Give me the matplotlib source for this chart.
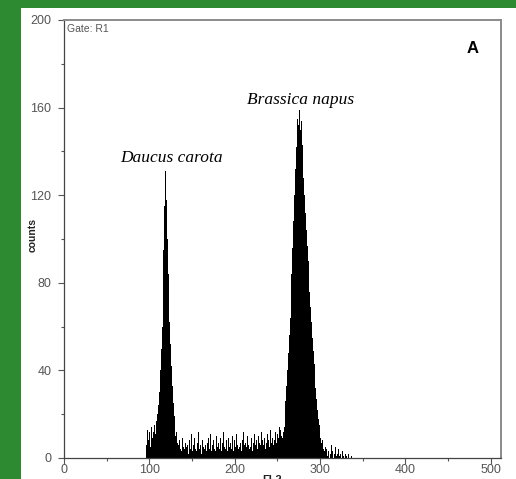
import matplotlib
matplotlib.use("Agg")
import matplotlib.pyplot as plt
from matplotlib.patches import Rectangle
import numpy as np

# ---- data: FL2 channel histogram (counts per channel) ----
start_channel = 95
counts = [
    # 95-104
    0, 11, 6, 13, 8, 12, 5, 10, 14, 9,
    # 105-114
    12, 15, 11, 17, 16, 20, 24, 30, 40, 50,
    # 115-124
    60, 76, 95, 115, 131, 118, 100, 84, 72, 62,
    # 125-134
    52, 42, 33, 25, 19, 14, 10, 12, 7, 6,
    # 135-144
    8, 4, 6, 3, 9, 5, 4, 7, 3, 5,
    # 145-154
    6, 2, 8, 4, 11, 5, 3, 6, 9, 4,
    # 155-164
    3, 7, 5, 12, 4, 6, 2, 8, 5, 10,
    # 165-174
    4, 6, 3, 7, 9, 4, 5, 11, 3, 6,
    # 175-184
    8, 4, 6, 3, 10, 5, 7, 4, 9, 6,
    # 185-194
    3, 7, 12, 5, 4, 8, 6, 3, 9, 5,
    # 195-204
    7, 4, 10, 6, 3, 8, 5, 11, 6, 4,
    # 205-214
    9, 5, 7, 3, 8, 12, 6, 4, 7, 5,
    # 215-224
    10, 6, 4, 8, 5, 9, 3, 7, 11, 6,
    # 225-234
    5, 8, 4, 10, 7, 6, 12, 5, 8, 6,
    # 235-244
    9, 4, 7, 11, 6, 8, 5, 13, 7, 9,
    # 245-254
    6, 10, 8, 12, 7, 11, 9, 14, 10, 13,
    # 255-264
    10, 9, 12, 14, 19, 26, 33, 40, 48, 56,
    # 265-274
    64, 74, 84, 96, 108, 120, 132, 142, 150, 155,
    # 275-284
    152, 159, 150, 154, 143, 136, 128, 120, 112, 104,
    # 285-294
    97, 90, 83, 76, 69, 62, 55, 49, 43, 37,
    # 295-304
    32, 27, 22, 18, 15, 12, 9, 7, 8, 4,
    # 305-314
    3, 5, 2, 4, 1, 3, 0, 2, 6, 1,
    # 315-324
    3, 0, 2, 5, 1, 2, 0, 4, 1, 2,
    # 325-334
    0, 3, 1, 4, 0, 2, 1, 0, 2, 0,
    # 335-340
    1, 0, 1, 0, 0, 0,
]
channels = np.arange(start_channel, start_channel + len(counts))

x_ticks = [0, 100, 200, 300, 400, 500]
y_ticks = [0, 40, 80, 120, 160, 200]
peak_labels = ["Daucus carota", "Brassica napus"]
peak_label_pos = [(126.5, 137), (277.5, 163.5)]

# ---- figure ----
W, H = 516, 479
fig = plt.figure(figsize=(W / 100, H / 100), dpi=100)
fig.patch.set_facecolor("#2e8a30")
fig.add_artist(Rectangle((21 / W, 0), 1 - 21 / W, (H - 8) / H,
                         transform=fig.transFigure, facecolor="white",
                         edgecolor="none", zorder=0))

ax = fig.add_axes([64 / W, 21 / H, 437 / W, 438 / H])
ax.set_facecolor("white")
ax.bar(channels, counts, width=1.0, color="black", linewidth=0, align="center")

ax.set_xlim(0, 512)
ax.set_ylim(0, 200)
ax.set_xticks(x_ticks)
ax.set_xticks([50, 150, 250, 350, 450], minor=True)
ax.set_yticks(y_ticks)
ax.set_yticks([20, 60, 100, 140, 180], minor=True)

ax.tick_params(axis="both", which="major", direction="out", length=4,
               width=0.8, color="#555555", labelcolor="#555555")
ax.tick_params(axis="x", which="major", pad=0.5)
ax.tick_params(axis="y", which="major", pad=5)
ax.tick_params(axis="both", which="minor", direction="out", length=2.5,
               width=0.8, color="#555555")
for lbl in ax.get_xticklabels() + ax.get_yticklabels():
    lbl.set_fontfamily("Liberation Sans")
    lbl.set_fontsize(9)

for side in ["left", "bottom"]:
    ax.spines[side].set_color("#444444")
    ax.spines[side].set_linewidth(0.9)
for side in ["top", "right"]:
    ax.spines[side].set_color("#8a8a8a")
    ax.spines[side].set_linewidth(1.4)

ax.set_ylabel("counts", fontfamily="Liberation Sans", fontsize=7.5,
              fontweight="bold", color="#222222")
ax.yaxis.set_label_coords(-0.060, 0.509)
fig.text(272 / W, 4 / H, "FL2", ha="center", va="top",
         fontfamily="Liberation Sans", fontsize=8, fontweight="bold",
         color="#222222")

ax.text(0.008, 0.992, "Gate: R1", transform=ax.transAxes, ha="left", va="top",
        fontfamily="Liberation Sans", fontsize=7.5, color="#555555")
ax.text(0.935, 0.935, "A", transform=ax.transAxes, ha="center", va="center",
        fontfamily="Liberation Sans", fontsize=12, fontweight="bold",
        color="black")

for txt, (px, py) in zip(peak_labels, peak_label_pos):
    ax.text(px, py, txt, ha="center", va="center", fontfamily="Liberation Serif",
            fontstyle="italic", fontsize=12.5, color="black")

fig.savefig("out.png", dpi=100, facecolor=fig.get_facecolor())
